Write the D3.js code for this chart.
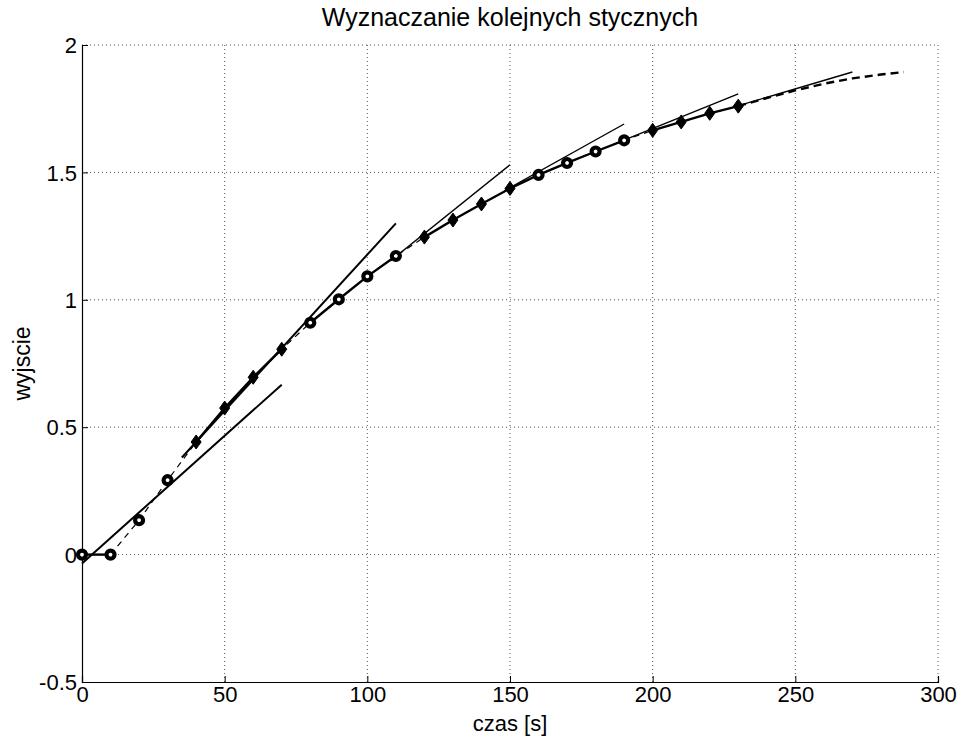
<!DOCTYPE html>
<html>
<head>
<meta charset="utf-8">
<script src="https://d3js.org/d3.v7.min.js"></script>
<style>
  body { margin: 0; background: #fff; }
  text { font-family: "Liberation Sans", Arial, Helvetica, sans-serif; fill: #000; }
</style>
</head>
<body>
<script>
// sampled times and measured output
const czas = [0, 10, 20, 30, 40, 50, 60, 70, 80, 90, 100, 110, 120, 130, 140, 150, 160, 170, 180, 190, 200, 210, 220, 230]
const wyjscie = [0, 0, 0.135, 0.292, 0.442, 0.575, 0.696, 0.806, 0.910, 1.002, 1.092, 1.172, 1.246, 1.313, 1.376, 1.437, 1.490, 1.537, 1.582, 1.626, 1.665, 1.698, 1.732, 1.760]
// marker shape per sample group
const markerGroups = ["o", "o", "o", "o", "d", "d", "d", "d", "o", "o", "o", "o", "d", "d", "d", "d", "o", "o", "o", "o", "d", "d", "d", "d"]
// solid connected groups (start/end index)
const solidGroups = [[0, 1], [4, 7], [8, 11], [12, 15], [15, 19], [20, 23]]
// model continuation beyond the data
const modelT = [240, 250, 260, 270, 280, 288]
const modelY = [1.792, 1.822, 1.848, 1.869, 1.884, 1.894]
// tangent lines [t0, y0, t1, y1]
const styczne = [
  [0, -0.035, 70, 0.667],
  [35, 0.381, 110, 1.300],
  [108, 1.152, 150, 1.530],
  [148, 1.428, 190, 1.690],
  [188, 1.618, 230, 1.808],
  [228, 1.755, 270, 1.894]
]
const xTicks = [0, 50, 100, 150, 200, 250, 300]
const yTicks = [-0.5, 0, 0.5, 1, 1.5, 2]

const W = 962, H = 740
const m = { left: 82, right: 24, top: 45, bottom: 58 }

const svg = d3.select("body").append("svg").attr("width", W).attr("height", H)

const x = d3.scaleLinear().domain([0, 300]).range([m.left, W - m.right])
const y = d3.scaleLinear().domain([-0.5, 2]).range([H - m.bottom, m.top])

// grid
const grid = svg.append("g")
grid.selectAll(".gx").data(xTicks.slice(1)).enter().append("line")
  .attr("x1", d => x(d)).attr("x2", d => x(d)).attr("y1", y(-0.5)).attr("y2", y(2))
  .attr("stroke", "#555").attr("stroke-width", 1).attr("stroke-dasharray", "1,3")
grid.selectAll(".gy").data(yTicks.slice(1)).enter().append("line")
  .attr("x1", x(0)).attr("x2", x(300)).attr("y1", d => y(d)).attr("y2", d => y(d))
  .attr("stroke", "#555").attr("stroke-width", 1).attr("stroke-dasharray", "1,3")

// axes
const xAxis = svg.append("g").attr("transform", `translate(0,${y(-0.5)})`)
  .call(d3.axisBottom(x).tickValues(xTicks).tickSize(-6).tickPadding(4).tickFormat(d3.format("d")))
const yAxis = svg.append("g").attr("transform", `translate(${x(0)},0)`)
  .call(d3.axisLeft(y).tickValues(yTicks).tickSize(-6).tickPadding(5).tickFormat(d => d === -0.5 ? "-0.5" : String(d)))
;[xAxis, yAxis].forEach(a => {
  a.select(".domain").attr("stroke", "#000").attr("stroke-width", 1.2)
  a.selectAll(".tick line").attr("stroke", "#000")
  a.selectAll(".tick text").style("font-size", "22px").attr("fill", "#000")
})
xAxis.selectAll(".tick text").attr("dy", "0.72em")
yAxis.selectAll(".tick text").attr("dy", "0.35em")

const line = d3.line().x(d => x(d[0])).y(d => y(d[1]))

// dashed model curve
const dashed1 = czas.slice(1).map((t, i) => [t, wyjscie[i + 1]])
svg.append("path").datum(dashed1).attr("d", line)
  .attr("fill", "none").attr("stroke", "#000").attr("stroke-width", 1.2).attr("stroke-dasharray", "6,5")
const dashed2 = [[czas[czas.length - 1], wyjscie[wyjscie.length - 1]]].concat(modelT.map((t, i) => [t, modelY[i]]))
svg.append("path").datum(dashed2).attr("d", line)
  .attr("fill", "none").attr("stroke", "#000").attr("stroke-width", 2.4).attr("stroke-dasharray", "8,5")

// tangents
svg.selectAll(".tan").data(styczne).enter().append("line")
  .attr("x1", d => x(d[0])).attr("y1", d => y(d[1]))
  .attr("x2", d => x(d[2])).attr("y2", d => y(d[3]))
  .attr("stroke", "#000").attr("stroke-width", (d, i) => i < 2 ? 2 : 1.4)

// solid connected segments
solidGroups.forEach(g => {
  const pts = d3.range(g[0], g[1] + 1).map(i => [czas[i], wyjscie[i]])
  svg.append("path").datum(pts).attr("d", line)
    .attr("fill", "none").attr("stroke", "#000").attr("stroke-width", 2.4)
})

// markers
const pts = czas.map((t, i) => ({ t: t, v: wyjscie[i], k: markerGroups[i] }))
svg.selectAll(".mk").data(pts).enter().append("path")
  .attr("transform", d => `translate(${x(d.t)},${y(d.v)})`)
  .attr("d", d => d.k === "o" ? d3.symbol(d3.symbolCircle, 50)() : "M0,-7L5,0L0,7L-5,0Z")
  .attr("fill", d => d.k === "o" ? "#fff" : "#000")
  .attr("stroke", "#000").attr("stroke-width", d => d.k === "o" ? 4.2 : 1)

// labels
svg.append("text").attr("x", (x(0) + x(300)) / 2).attr("y", 26).attr("text-anchor", "middle")
  .style("font-size", "25px").text("Wyznaczanie kolejnych stycznych")
svg.append("text").attr("x", (x(0) + x(300)) / 2).attr("y", 731).attr("text-anchor", "middle")
  .style("font-size", "22px").text("czas [s]")
svg.append("text").attr("transform", `translate(30,${(y(-0.5) + y(2)) / 2}) rotate(-90)`)
  .attr("text-anchor", "middle").style("font-size", "23px").text("wyjscie")
</script>
</body>
</html>
